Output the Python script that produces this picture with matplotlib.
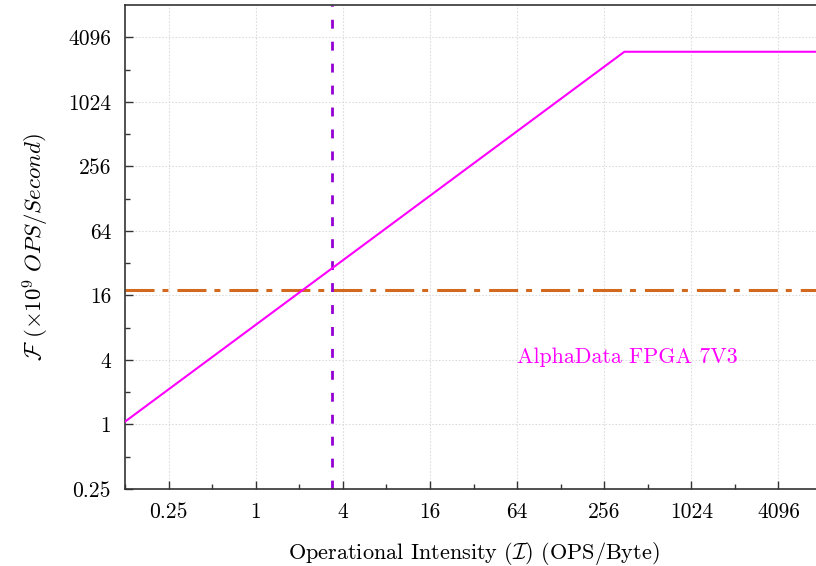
import matplotlib
matplotlib.use("Agg")
import matplotlib.pyplot as plt
import numpy as np
from matplotlib.ticker import FixedLocator, NullFormatter

plt.rcParams['font.family'] = 'serif'
plt.rcParams['font.serif'] = ['cmr10', 'DejaVu Serif']
plt.rcParams['mathtext.fontset'] = 'cm'
plt.rcParams['axes.unicode_minus'] = False

# Data
peak_perf = 3000.0      # GOPS
bandwidth = 8.5         # GB/s
op_intensity = 3.35     # vertical marker
achieved_perf = 18.0    # horizontal marker
label_text = "AlphaData FPGA 7V3"
x_ticks = [0.25, 1, 4, 16, 64, 256, 1024, 4096]
x_ticklabels = ["0.25", "1", "4", "16", "64", "256", "1024", "4096"]
y_ticks = [0.25, 1, 4, 16, 64, 256, 1024, 4096]
y_ticklabels = ["0.25", "1", "4", "16", "64", "256", "1024", "4096"]
x_minor = [0.125, 0.5, 2, 8, 32, 128, 512, 2048, 8192]
y_minor = [0.5, 2, 8, 32, 128, 512, 2048]

fig = plt.figure(figsize=(8.16, 5.66), dpi=100)
W, H = 816, 566
left, right, top, bottom = 125, 822, 5, 489
ax = fig.add_axes([left / W, 1 - bottom / H, (right - left) / W, (bottom - top) / H])
ax.set_xscale('log', base=2)
ax.set_yscale('log', base=2)
ax.set_xlim(0.125, 8192)
ax.set_ylim(0.25, 8192)

ridge = peak_perf / bandwidth
xs = np.array([0.125, ridge, 8192])
ys = np.minimum(bandwidth * xs, peak_perf)
ax.plot(xs, ys, color='#FF00FF', lw=1.5, zorder=3)

ax.axhline(achieved_perf, color='#D2691E', lw=2.2, dashes=(9.5, 2.6, 1.95, 2.95), zorder=2)
ax.axvline(op_intensity, color='#9400D3', lw=2.0, dashes=(3.2, 4.7), zorder=2)

ax.text(64, 4.25, label_text, color='#FF00FF', fontsize=15.8, ha='left', va='center')

ax.xaxis.set_major_locator(FixedLocator(x_ticks))
ax.xaxis.set_minor_locator(FixedLocator(x_minor))
ax.set_xticklabels(x_ticklabels)
ax.xaxis.set_minor_formatter(NullFormatter())
ax.yaxis.set_major_locator(FixedLocator(y_ticks))
ax.yaxis.set_minor_locator(FixedLocator(y_minor))
ax.set_yticklabels(y_ticklabels)
ax.yaxis.set_minor_formatter(NullFormatter())

ax.tick_params(which='major', direction='in', length=6, width=1.0, labelsize=15.5, color='#333333', pad=10)
ax.tick_params(which='minor', direction='in', length=3.5, width=1.0, color='#333333')
ax.tick_params(top=False, right=False, which='both')

ax.grid(True, which='major', color='#DDDDDD', linestyle=(0, (1.5, 1.5)), lw=0.8, zorder=0)
for s in ax.spines.values():
    s.set_color('#333333')
    s.set_linewidth(1.2)

ax.set_xlabel(r'Operational Intensity ($\mathcal{I}$) (OPS/Byte)', fontsize=16, labelpad=13)
ax.set_ylabel(r'$\mathcal{F}\ (\times 10^{9}\ OPS/Second)$', fontsize=16.5, labelpad=12)

fig.savefig('out.png', dpi=100)
